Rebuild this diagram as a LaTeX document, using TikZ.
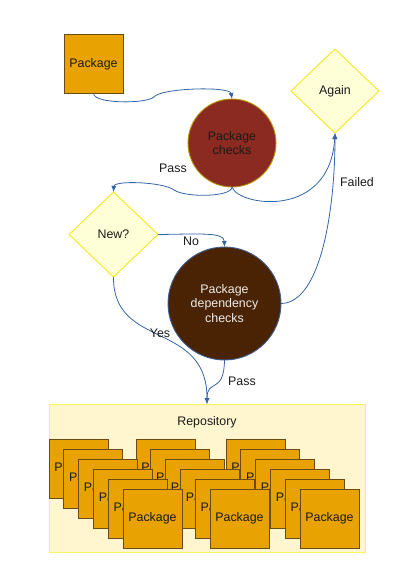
\documentclass[tikz,border=0pt]{standalone}
\usepackage{fontspec}
\setmainfont{Liberation Sans}
\usetikzlibrary{shapes.geometric,arrows.meta}
\definecolor{pkgfill}{HTML}{E8A202}
\definecolor{pkgdraw}{HTML}{6B4B14}
\definecolor{pcfill}{HTML}{8B2A20}
\definecolor{pcdraw}{HTML}{B8960B}
\definecolor{depfill}{HTML}{4A2305}
\definecolor{depdraw}{HTML}{3F5F8F}
\definecolor{dfill}{HTML}{FFFFD7}
\definecolor{ddraw}{HTML}{F5E91E}
\definecolor{repofill}{HTML}{FFF5CE}
\definecolor{repodraw}{HTML}{FFF25A}
\definecolor{conn}{HTML}{3465A4}
\definecolor{txt}{HTML}{1A1A1A}
\begin{document}
\begin{tikzpicture}[x=1pt,y=-1pt,
  every node/.style={font=\fontsize{12.4}{14.5}\selectfont, text=txt, inner sep=0pt, outer sep=0pt},
  pkgbox/.style={draw=pkgdraw, fill=pkgfill, line width=0.9pt, minimum width=59pt, minimum height=59pt},
  decision/.style={diamond, draw=ddraw, fill=dfill, line width=0.9pt, aspect=1.05},
  checkcirc/.style={circle, line width=0.9pt, align=center},
  conn/.style={draw=conn, line width=0.8pt, -{Latex[length=6pt,width=5pt]}},
  connplain/.style={draw=conn, line width=0.8pt},
  lbl/.style={font=\fontsize{12.4}{14.5}\selectfont}
]
\useasboundingbox (0,0) rectangle (414,586);
% top package
\node[pkgbox] (pkg) at (93.5,64) {Package};
% package checks
\node[checkcirc, draw=pcdraw, fill=pcfill, minimum size=88pt] (pc) at (232,143) {Package\\checks};
% again
\node[decision, minimum width=88pt, minimum height=84pt] (again) at (335,91) {Again};
% new
\node[decision, minimum width=89pt, minimum height=85pt] (new) at (113.5,234.5) {New?};
% dependency checks
\node[checkcirc, draw=depdraw, fill=depfill, minimum size=113pt, text=white!93!black] (dep) at (224.5,303.5) {Package\\dependency\\checks};
% repository
\node[draw=repodraw, fill=repofill, line width=0.9pt, minimum width=316pt, minimum height=148pt] (repo) at (207,478) {};
\node (repolbl) at (207,422) {Repository};
% stacks (drawn right to left so the left stack is on top)
\foreach \sx/\sn in {226/c, 136/b, 49/a}{
  \foreach \i in {0,...,5}{
    \node[pkgbox] (box\sn\i) at ({\sx+29.5+14.8*\i},{468.5+10*\i}) {Package};
  }
}
% connectors
\coordinate (m1) at (154,97);
\draw[connplain] (pkg.south) .. controls (94,104) and (146,104) .. (m1);
\draw[conn] (m1) .. controls (160,88) and (230,86) .. (pc.north);
\coordinate (m2) at (174,190);
\draw[connplain] (pc.south) .. controls (232,197) and (186,198) .. (m2);
\draw[conn] (m2) .. controls (164,182) and (114,180) .. (new.north);
\draw[conn] (pc.south) .. controls (238,206) and (330,220) .. (again.south);
\draw[conn] (dep.east) .. controls (322,303) and (335,205) .. (again.south);
\draw[conn] (new.east) .. controls (200,234) and (224,232) .. (dep.north);
\draw[conn] (new.south) .. controls (113,350) and (207,320) .. (repo.north);
\draw[conn] (dep.south) .. controls (224,395) and (207,378) .. (repo.north);
% labels
\node[lbl] (lpass1) at (173,168) {Pass};
\node[lbl] (lfailed) at (357,182) {Failed};
\node[lbl] (lno) at (191,241) {No};
\node[lbl] (lyes) at (160,333) {Yes};
\node[lbl] (lpass2) at (242,381) {Pass};
\end{tikzpicture}
\end{document}
